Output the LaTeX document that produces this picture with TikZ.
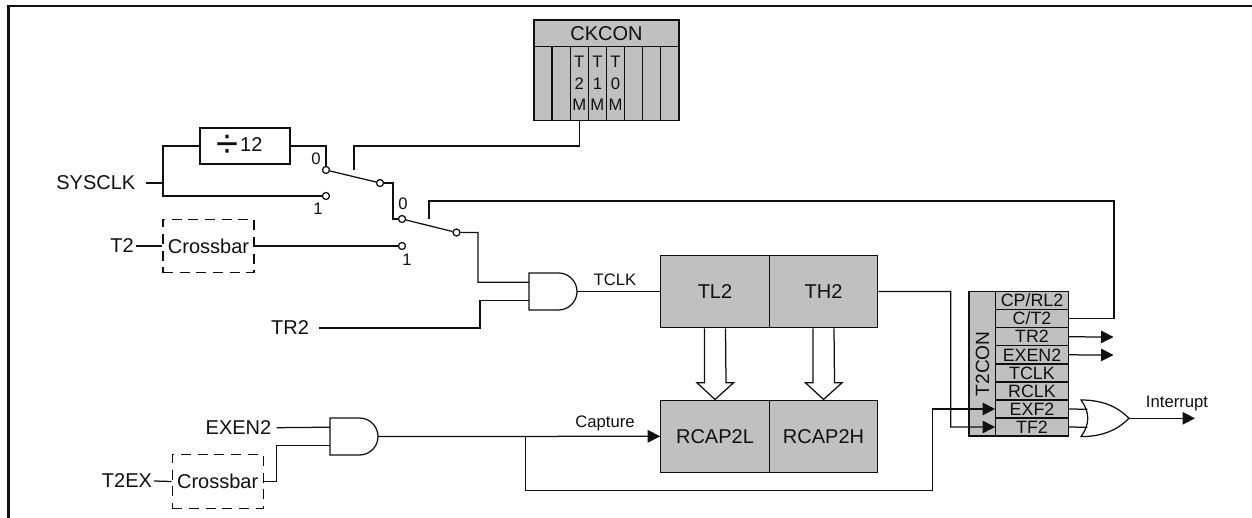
\documentclass[tikz,border=0pt]{standalone}
\usepackage{fontspec}
\setmainfont{Liberation Sans}
\usepackage{xcolor}
\usepackage{tikz}
\usetikzlibrary{calc,arrows.meta}
\definecolor{regfill}{HTML}{C0C0C0}
\definecolor{wireblack}{HTML}{101010}

\begin{document}
\begin{tikzpicture}[
      x=0.6pt, y=-0.6pt,
      every node/.style={font=\fontsize{12}{13}\selectfont, text=wireblack},
      wire/.style={draw=wireblack, line width=0.75pt},
      wiretip/.style={wire, -{Triangle[length=7.5pt,width=7.5pt]}},
      reg/.style={
        draw=wireblack, line width=0.75pt,
        fill=regfill,
        inner sep=0pt,
        minimum width=65pt,
        minimum height=43.4pt
      },
      cell/.style={
        draw=wireblack, line width=0.75pt,
        fill=regfill,
        inner sep=0pt,
        align=center,
        minimum width=10.9pt,
        minimum height=44.4pt,
        font=\fontsize{10}{13}\selectfont
      },
      row/.style={
        draw=wireblack, line width=0.75pt,
        fill=regfill,
        inner sep=0pt,
        minimum width=43.6pt,
        minimum height=10.8pt,
        text height=7.4pt,
        text depth=0pt,
        font=\fontsize{10.7}{11}\selectfont
      },
      xbar/.style={
        draw=wireblack, line width=0.75pt,
        dash pattern=on 6pt off 4pt,
        inner sep=0pt,
        minimum width=54.6pt,
        minimum height=32pt
      },
      pole/.style={
        circle, draw=wireblack, line width=0.75pt,
        fill=white,
        inner sep=0pt,
        minimum size=4.2pt
      },
      lbl/.style={inner sep=0pt},
      tiny/.style={inner sep=0pt, font=\fontsize{10}{11}\selectfont},
      andshape/.pic={
        \draw[wire] (29.5,-18.5) -- (0,-18.5) -- (0,18.5) -- (29.5,18.5)
          .. controls (39.7,18.5) and (48,10.2) .. (48,0)
          .. controls (48,-10.2) and (39.7,-18.5) .. (29.5,-18.5) -- cycle;
        \coordinate (-in1) at (0,-9.3);
        \coordinate (-in2) at (0,9.3);
        \coordinate (-out) at (48,0);
      },
      orshape/.pic={
        \draw[wire] (0,-18.3) .. controls (24,-18.3) and (38,-10) .. (48,0)
          .. controls (38,10) and (24,18.3) .. (0,18.3)
          .. controls (9,6) and (9,-6) .. (0,-18.3) -- cycle;
        \coordinate (-in1) at (6.3,-9);
        \coordinate (-in2) at (6.3,9);
        \coordinate (-out) at (48,0);
      }
    ]
      \useasboundingbox (0,0) rectangle (1252,518);
      % outer frame
      \draw[wireblack, line width=1.3pt] (8.5,518) -- (8.5,6) -- (1252,6);

      % CKCON
      \node[reg, minimum width=87pt, minimum height=16pt] (ckcon) at (606.5,33.3) {CKCON};
      \foreach \cname/\ctext [count=\ci] in {ck7/, ck6/, ck5/T\\2\\M, ck4/T\\1\\M, ck3/T\\0\\M, ck2/, ck1/, ck0/}
        \node[cell] (\cname) at ({534+18.12*(\ci-0.5)},83.3) {\ctext};

      % clock input
      \node[reg, fill=none, minimum width=54pt, minimum height=21.6pt] (div12) at (245,146) {};
      \node[lbl] (divtext) at (239.5,146) {\raisebox{-3.5pt}{\fontsize{24}{24}\selectfont ÷}\kern1pt 12};
      \node[lbl, inner xsep=6pt] (sysclk) at (95.8,183) {SYSCLK};
      \coordinate (sysj) at (163,183);
      \node[pole] (swa0) at (326,170) {};
      \node[pole] (swa1) at (326,196) {};
      \node[pole] (swaout) at (380,183) {};
      \node[tiny] (swa0t) at (316,159) {0};
      \node[tiny] (swa1t) at (318,209) {1};
      \draw[wire] (sysclk.east) -- (sysj);
      \draw[wire] (div12.west) -| (sysj) |- (swa1.west);
      \draw[wire] (div12.east) -| (swa0.north);
      \draw[wire] (swa0) -- (swaout);
      \coordinate (levera) at (354,170);
      \coordinate (leveraj) at (354,146);
      \draw[wire] (levera) -- (leveraj) -| (ck5.south);

      % T2 input
      \node[lbl, inner xsep=1pt] (t2) at (122,246) {T2};
      \node[xbar] (xbara) at (208.5,246) {Crossbar};
      \node[pole] (swb0) at (402,219) {};
      \node[pole] (swb1) at (402,246) {};
      \node[pole] (swbout) at (456.5,232.5) {};
      \node[tiny] (swb0t) at (403,204) {0};
      \node[tiny] (swb1t) at (407,260) {1};
      \draw[wire] (t2.east) -- (xbara.west);
      \draw[wire] (xbara.east) -- (swb1.west);
      \draw[wire] (swaout.east) -| (393,219) -- (swb0.west);
      \draw[wire] (swb0) -- (swbout);

      % timer registers
      \node[reg] (tl2) at (715,291.5) {TL2};
      \node[reg] (th2) at (823.5,291.5) {TH2};
      \node[reg] (rcapl) at (715,436.3) {RCAP2L};
      \node[reg] (rcaph) at (823.5,436.3) {RCAP2H};

      % run gate
      \pic (andrun) at (529,291.5) {andshape};
      \node[lbl, inner xsep=6pt] (tr2) at (290,328) {TR2};
      \node[tiny] (tclk) at (615,280) {TCLK};
      \draw[wire] (swbout.east) -| (478,282.2) -- (andrun-in1);
      \draw[wire] (tr2.east) -| (480,300.8) -- (andrun-in2);
      \draw[wire] (andrun-out) -- (tl2.west);

      % reload arrows
      \foreach \regname/\capname in {tl2/rcapl, th2/rcaph}
        \draw[wire, fill=white] ($(\regname.south)+(-10.5,0)$) -- ++(0,54.5) -- ++(-7.5,0) -- (\capname.north)
          -- ($(\regname.south)+(18.5,54.5)$) -- ++(-7.5,0) -- ($(\regname.south)+(10.5,0)$);

      % T2CON
      \node[reg, minimum width=16pt, minimum height=86.6pt] (t2con) at (982.4,363.8) {};
      \node[lbl, rotate=90, font=\fontsize{11.5}{12}\selectfont] (t2context) at (982.4,363.8) {T2CON};
      \foreach \rname/\rtext [count=\ri] in {cprl/{CP/RL2}, ct/{C/T2}, trb/TR2, exen/EXEN2, tclkb/TCLK, rclk/RCLK, exf/EXF2, tf/TF2}
        \node[row] (\rname) at (1032,{291.7+18.04*(\ri-0.5)}) {\rtext};

      % capture gate
      \node[lbl, inner xsep=3pt] (exen2) at (238.5,427.7) {EXEN2};
      \node[lbl, inner xsep=1pt] (t2ex) at (127,481) {T2EX};
      \node[xbar] (xbarb) at (217.7,481.5) {Crossbar};
      \pic (andcap) at (330,436.5) {andshape};
      \node[tiny] (capture) at (605,423) {Capture};
      \coordinate (capj) at (525.3,436.5);
      \draw[wire] (exen2.east) -- (andcap-in1);
      \draw[wire] (xbarb.east) -| (276.7,445.8) -- (andcap-in2);
      \draw[wire] (t2ex.east) -- (xbarb.west);
      \draw[wiretip] (andcap-out) -- (rcapl.west);

      % flags
      \draw[wiretip] (capj) |- (932.7,490.7) |- (exf.west);
      \draw[wiretip] (th2.east) -| (950.7,427) -- (tf.west);
      \coordinate (leverb) at (429,219);
      \draw[wire] (leverb) |- (1114,201) |- (ct.east);
      \coordinate (trout) at (1113.5,337);
      \coordinate (exout) at (1113.5,355);
      \draw[wiretip] (trb.east) -- (trout);
      \draw[wiretip] (exen.east) -- (exout);
      \pic (orint) at (1081,418.3) {orshape};
      \node[tiny] (interrupt) at (1177,403) {Interrupt};
      \coordinate (intout) at (1195,418.3);
      \draw[wire] (exf.east) -- (orint-in1);
      \draw[wire] (tf.east) -- (orint-in2);
      \draw[wiretip] (orint-out) -- (intout);
    \end{tikzpicture}
\end{document}
